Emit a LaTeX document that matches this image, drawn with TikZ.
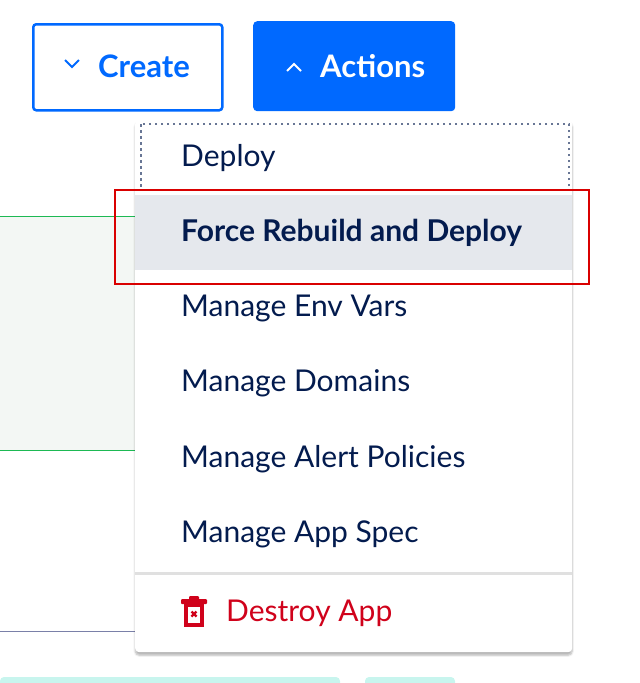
\documentclass[tikz,border=0pt]{standalone}
\usepackage{fontspec}
\setmainfont{Lato}
\usetikzlibrary{shadows.blur}
\definecolor{dblue}{HTML}{0069FF}
\definecolor{navy}{HTML}{031B4E}
\definecolor{dred}{HTML}{D0021B}
\definecolor{hl}{HTML}{E5E8ED}
\definecolor{grn}{HTML}{1DB954}
\definecolor{teal}{HTML}{C8F5EE}
\definecolor{bgg}{HTML}{F3F7F4}
\definecolor{gline}{HTML}{7A80A8}
\tikzset{item/.style={anchor=west,text=navy,font=\fontsize{30}{33}\selectfont,inner sep=0pt}}
\begin{document}
\begin{tikzpicture}[x=1pt,y=-1pt]
\useasboundingbox (0,0) rectangle (640,683);
% background
\fill[bgg] (0,216) rectangle (135,450);
\draw[grn,line width=1] (0,216) -- (135,216) (0,450) -- (135,450);
\draw[gline,line width=1] (0,631) -- (135,631);
\fill[teal,rounded corners=4] (0,677) rectangle (340,690);
\fill[teal,rounded corners=4] (365,677) rectangle (455,690);
% buttons
\node[draw=dblue,line width=2.5,rounded corners=3,minimum width=189,minimum height=86,anchor=north west] (create) at (32,23) {};
\node[text=dblue,font=\fontsize{31}{34}\selectfont\bfseries,anchor=west,inner sep=0pt] (ct) at (98,66) {Create};
\draw[dblue,line width=2] (65,60) -- (72,67) -- (79,60);
\node[fill=dblue,rounded corners=4,minimum width=202,minimum height=90,anchor=north west] (actions) at (253,21) {};
\node[text=white,font=\fontsize{31}{34}\selectfont\bfseries,anchor=west,inner sep=0pt] (at) at (320,66) {Actions};
\draw[white,line width=2] (287,71) -- (294,64) -- (301,71);
% menu
\node[fill=white,rounded corners=4,blur shadow={shadow blur steps=6,shadow xshift=0pt,shadow yshift=-3pt,shadow opacity=30},minimum width=437,minimum height=532,anchor=north west] (menu) at (135,120) {};
\draw[navy!60,line width=2.5,dash pattern=on 2.5pt off 3.5pt] (141,124) rectangle (569,190);
\fill[hl] (135,195) rectangle (572,270);
\draw[red!85!black,line width=1.2] (115,190) rectangle (589,284);
\node[item] (i1) at (181,158) {Deploy};
\node[item,font=\fontsize{30}{33}\selectfont\bfseries] (i2) at (181,233) {Force Rebuild and Deploy};
\node[item] (i3) at (181,308) {Manage Env Vars};
\node[item] (i4) at (181,383) {Manage Domains};
\node[item] (i5) at (181,459) {Manage Alert Policies};
\node[item] (i6) at (181,534) {Manage App Spec};
\fill[black!12] (135,572) rectangle (572,575);
\node[item,text=dred] (i7) at (226,613) {Destroy App};
% trash icon
\fill[dred,rounded corners=1] (181,599) rectangle (207,604);
\fill[dred,rounded corners=1] (189,596) rectangle (199,600);
\draw[dred,line width=3.5] (186,605) rectangle (202,625);
\draw[dred,line width=2.2] (191.5,611.5) -- (196.5,616.5) (196.5,611.5) -- (191.5,616.5);
\end{tikzpicture}
\end{document}
